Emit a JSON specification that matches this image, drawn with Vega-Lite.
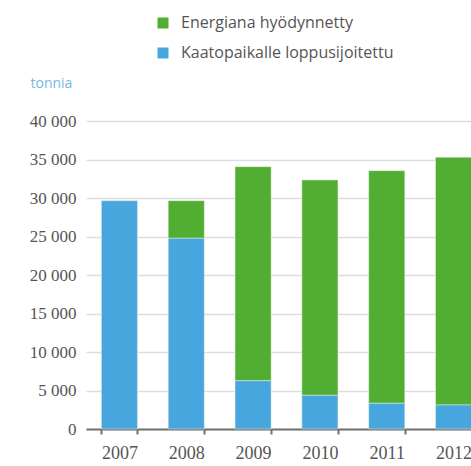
{
  "$schema": "https://vega.github.io/schema/vega-lite/v6.json",
  "autosize": "none",
  "padding": {"left": 86, "top": 121, "right": 0, "bottom": 37},
  "width": 385,
  "height": 308,
  "background": "white",
  "data": {
    "values": [
      {"vuosi": "2007", "sarja": "Energiana hyödynnetty", "tonnia": 0},
      {"vuosi": "2007", "sarja": "Kaatopaikalle loppusijoitettu", "tonnia": 29650},
      {"vuosi": "2008", "sarja": "Energiana hyödynnetty", "tonnia": 4880},
      {"vuosi": "2008", "sarja": "Kaatopaikalle loppusijoitettu", "tonnia": 24770},
      {"vuosi": "2009", "sarja": "Energiana hyödynnetty", "tonnia": 27800},
      {"vuosi": "2009", "sarja": "Kaatopaikalle loppusijoitettu", "tonnia": 6270},
      {"vuosi": "2010", "sarja": "Energiana hyödynnetty", "tonnia": 27970},
      {"vuosi": "2010", "sarja": "Kaatopaikalle loppusijoitettu", "tonnia": 4370},
      {"vuosi": "2011", "sarja": "Energiana hyödynnetty", "tonnia": 30210},
      {"vuosi": "2011", "sarja": "Kaatopaikalle loppusijoitettu", "tonnia": 3340},
      {"vuosi": "2012", "sarja": "Energiana hyödynnetty", "tonnia": 32170},
      {"vuosi": "2012", "sarja": "Kaatopaikalle loppusijoitettu", "tonnia": 3120}
    ]
  },
  "mark": {"type": "bar", "stroke": "#e6f2e0", "strokeWidth": 0.5},
  "encoding": {
    "x": {
      "field": "vuosi",
      "type": "ordinal",
      "scale": {"range": [0, 401], "paddingInner": 0.46, "paddingOuter": 0.23},
      "axis": {
        "title": null,
        "labelAngle": 0,
        "tickBand": "extent",
        "domainColor": "#707070",
        "domainWidth": 2,
        "tickColor": "#707070",
        "tickWidth": 2,
        "tickSize": 5,
        "labelFont": "Liberation Serif",
        "labelFontSize": 18,
        "labelColor": "#555555",
        "labelPadding": 10,
        "grid": false
      }
    },
    "y": {
      "field": "tonnia",
      "type": "quantitative",
      "scale": {"domain": [0, 40000]},
      "axis": {
        "title": "tonnia",
        "titleAngle": 0,
        "titleAlign": "left",
        "titleBaseline": "middle",
        "titleX": -56,
        "titleY": -38,
        "titleFont": "Open Sans",
        "titleFontSize": 14,
        "titleFontWeight": "normal",
        "titleColor": "#7ab8e0",
        "values": [0, 5000, 10000, 15000, 20000, 25000, 30000, 35000, 40000],
        "labelExpr": "replace(format(datum.value, ',d'), ',', ' ')",
        "labelFont": "Liberation Serif",
        "labelFontSize": 17,
        "labelColor": "#555555",
        "labelPadding": 10,
        "ticks": false,
        "domain": false,
        "grid": true,
        "gridColor": "#dddddd",
        "gridWidth": 1.5
      }
    },
    "color": {
      "field": "sarja",
      "type": "nominal",
      "scale": {
        "domain": ["Energiana hyödynnetty", "Kaatopaikalle loppusijoitettu"],
        "range": ["#52ad33", "#48a6de"]
      },
      "legend": {
        "title": null,
        "orient": "none",
        "legendX": 69,
        "legendY": -106,
        "symbolType": "square",
        "symbolSize": 121,
        "symbolStrokeWidth": 0,
        "labelFont": "Open Sans",
        "labelFontSize": 16,
        "labelLimit": 0,
        "labelColor": "#555555",
        "labelOffset": 10,
        "rowPadding": 14
      }
    },
    "order": {"field": "sarja", "sort": "descending"}
  },
  "config": {"view": {"stroke": null}}
}
